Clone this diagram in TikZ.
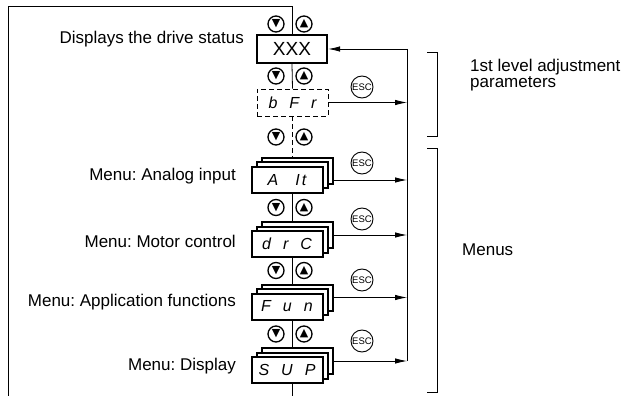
\documentclass[tikz,border=0pt]{standalone}
\usepackage{fontspec}
\setmainfont{Liberation Sans}
\newfontfamily\symfont{DejaVu Sans}
\usetikzlibrary{positioning}
\usetikzlibrary{arrows.meta}
\frenchspacing
\tikzset{every picture/.style={/utils/exec={\fontsize{17}{16}\selectfont}}}

\tikzset{
  btn/.style={circle, draw, line width=1.3pt, minimum size=16pt, inner sep=0pt, fill=white,
    font=\symfont\fontsize{11}{11}\selectfont},
  escbtn/.style={circle, draw, line width=0.9pt, minimum size=22pt, inner sep=0pt,
    font=\fontsize{9.5}{9.5}\selectfont},
  panel/.style={draw, fill=white, line width=2pt, minimum width=71pt, minimum height=26pt,
    inner sep=0pt, font=\fontsize{16}{16}\selectfont\itshape},
  menutext/.style={anchor=east, inner sep=0pt},
  link/.style={-{Latex[length=12pt,width=5.5pt]}, line width=0.8pt},
}

% a pair of down / up keys on both sides of the main line
\newcommand{\updown}[2]{%
  \node[btn] (#1dn) at (276,#2) {▼};
  \node[btn] (#1up) at (304,#2) {▲};}

% a menu shown as three stacked displays
\newcommand{\menustack}[3]{%
  \node[panel, xshift=10pt, yshift=9pt] (#1c) at (#2) {};
  \node[panel, xshift=5pt, yshift=4.5pt] (#1b) at (#2) {};
  \node[panel] (#1) at (#2) {#3};}

\begin{document}
\begin{tikzpicture}[x=1pt, y=-1pt]
  \useasboundingbox (0,0) rectangle (625,396);

  \coordinate (loopcorner) at (8,6);
  \coordinate (loopend) at (8,396);
  \coordinate (rail) at (407,0);

  % displays
  \node[draw, line width=2.4pt, minimum width=70pt, minimum height=28pt, inner sep=0pt,
    font=\fontsize{19}{19}\selectfont] (xxx) at (292,49) {XXX};
  \node[draw, dash pattern=on 5pt off 3pt, line width=0.8pt, minimum width=71pt, minimum height=27pt,
    inner sep=0pt, font=\fontsize{16}{16}\selectfont\itshape] (bfr) at (292.5,102.5) {b\hspace{12pt}F\hspace{12pt}r};
  \menustack{ait}{287,180}{A\hspace{17pt}I\hspace{2pt}t}
  \menustack{drc}{287,244}{d\hspace{12pt}r\hspace{12pt}C}
  \menustack{fun}{287,306.5}{F\hspace{12pt}u\hspace{12pt}n}
  \menustack{sup}{287,370}{S\hspace{12pt}U\hspace{12pt}P}

  % keys
  \updown{k1}{24}
  \updown{k2}{76}
  \updown{k3}{137}
  \updown{k4}{207.5}
  \updown{k5}{270.5}
  \updown{k6}{334}

  \node[escbtn] (esc1) at (362,87) {ESC};
  \node[escbtn] (esc2) at (362,163) {ESC};
  \node[escbtn] (esc3) at (362,219) {ESC};
  \node[escbtn] (esc4) at (362,280) {ESC};
  \node[escbtn] (esc5) at (362,341) {ESC};

  % main line and loop back
  \draw[line width=0.8pt] (loopend) -- (loopcorner) -- (loopcorner -| xxx.north) -- (xxx.north);
  \draw[line width=0.8pt] (xxx.south) -- (bfr.north);
  \draw[line width=0.8pt, dash pattern=on 5pt off 3pt] (bfr.south) -- (bfr.south |- aitc.north);
  \draw[line width=0.8pt] (aitb.south |- ait.south) -- (aitb.south |- drcc.north);
  \draw[line width=0.8pt] (drcb.south |- drc.south) -- (drcb.south |- func.north);
  \draw[line width=0.8pt] (funb.south |- fun.south) -- (funb.south |- supc.north);
  \draw[line width=0.8pt] (supb.south |- sup.south) -- (supb.south |- loopend);

  % ESC returns
  \draw[line width=0.8pt] (xxx.east -| rail) -- (supc.east -| rail);
  \draw[link] (xxx.east -| rail) -- (xxx.east);
  \draw[link] (bfr.east) -- (bfr.east -| rail);
  \draw[link] (aitc.east |- ait.east) -- (ait.east -| rail);
  \draw[link] (drcc.east) -- (drcc.east -| rail);
  \draw[link] (func.east) -- (func.east -| rail);
  \draw[link] (supc.east) -- (supc.east -| rail);

  % brackets
  \draw[line width=0.8pt] (427,52) -- (437,52) -- (437,136) -- (427,136);
  \draw[line width=0.8pt] (427,148) -- (437,148) -- (437,392) -- (427,392);

  % texts
  \node[menutext] (txtxxx) at (244,39) {Displays the drive status};
  \node[menutext] (txtait) at (236,176) {Menu: Analog input};
  \node[menutext] (txtdrc) at (236,241) {Menu: Motor control};
  \node[menutext] (txtfun) at (236,302) {Menu: Application functions};
  \node[menutext] (txtsup) at (236,366) {Menu: Display};
  \node[anchor=west, align=left, inner sep=0pt] (txtlvl) at (470,75) {1st level adjustment\\parameters};
  \node[anchor=west, inner sep=0pt] (txtmenus) at (462,250) {Menus};

\end{tikzpicture}
\end{document}
